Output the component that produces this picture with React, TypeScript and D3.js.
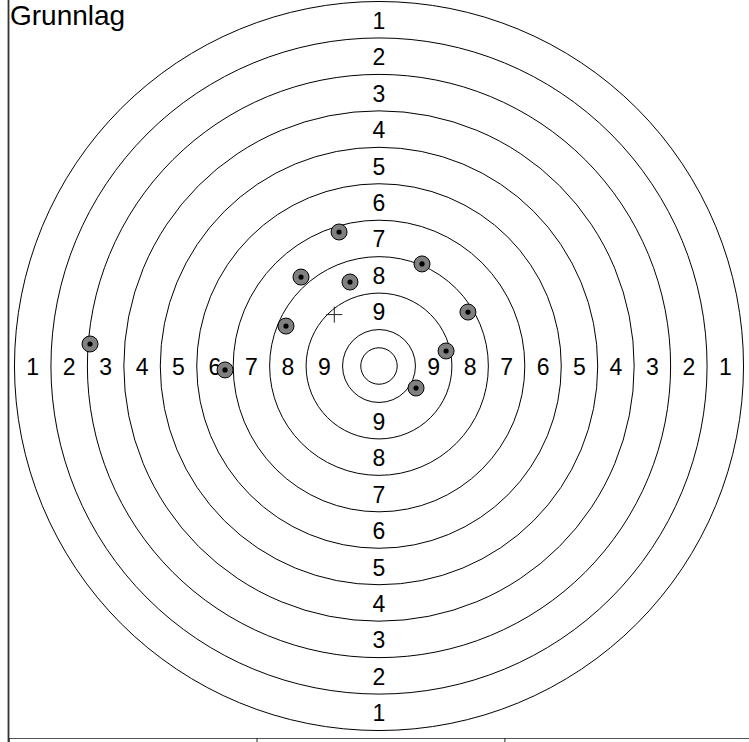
import React, { useEffect, useRef } from 'react';
import * as d3 from 'd3';

// target geometry in mm (25m / 50m pistol style: 25 mm per ring)
const ringScores = [1, 2, 3, 4, 5, 6, 7, 8, 9, 10];
const ringStep = 25;
const innerTenRadius = 12.5;

// shots, mm from target centre (y up)
const shotX = [-27.4, -53.5, -19.9, 29.5, 61.0, -63.8, 46.0, -105.6, 25.4, -198.2];
const shotY = [91.9, 61.0, 57.6, 70.0, 37.0, 27.4, 10.3, -2.7, -15.1, 15.1];

const xDomain = [-254.1, 254.1];
const yDomain = [-255.1, 251.0];
const xTicks = [-254, -84, 86];
const title = 'Grunnlag';

export default function App() {
  const svgRef = useRef<SVGSVGElement>(null);
  const W = 749, H = 742;
  const M = { left: 8.5, right: 0, top: 0, bottom: 4 };

  useEffect(() => {
    const svg = d3.select(svgRef.current);
    svg.selectAll('*').remove();

    const x = d3.scaleLinear().domain(xDomain).range([M.left, W + 0.5]);
    const y = d3.scaleLinear().domain(yDomain).range([H - M.bottom, M.top]);
    const k = x(1) - x(0);
    const font = 'Liberation Sans, Arial, Helvetica, sans-serif';

    const g = svg.append('g');

    // Rings
    const radii = ringScores.map(s => (11 - s) * ringStep);
    radii.push(innerTenRadius);
    g.selectAll('circle.ring').data(radii).enter().append('circle')
      .attr('class', 'ring')
      .attr('cx', x(0)).attr('cy', y(0)).attr('r', d => d * k)
      .attr('fill', 'none').attr('stroke', '#000').attr('stroke-width', 1);

    // Ring numbers on four sides
    const dirs = [[0, 1], [0, -1], [-1, 0], [1, 0]];
    for (const s of ringScores.filter(s => s < 10)) {
      const mid = (10.5 - s) * ringStep;
      for (const [dx, dy] of dirs) {
        g.append('text')
          .attr('x', x(dx * mid)).attr('y', y(dy * mid) + 1)
          .attr('text-anchor', 'middle').attr('dominant-baseline', 'central')
          .attr('font-family', font).attr('font-size', 23).attr('fill', '#000')
          .text(s);
      }
    }

    // Shots
    const shots = shotX.map((v, i) => ({ x: v, y: shotY[i] }));
    const sg = g.selectAll('g.shot').data(shots).enter().append('g').attr('class', 'shot');
    sg.append('circle').attr('cx', d => x(d.x)).attr('cy', d => y(d.y)).attr('r', 8)
      .attr('fill', '#808080').attr('stroke', '#000').attr('stroke-width', 1);
    sg.append('circle').attr('cx', d => x(d.x)).attr('cy', d => y(d.y)).attr('r', 2.6)
      .attr('fill', '#000');

    // Mean point of impact
    const mx = d3.mean(shotX) as number, my = d3.mean(shotY) as number;
    const cx = x(mx), cy = y(my);
    g.append('path').attr('d', `M${cx - 8},${cy}H${cx + 8}M${cx},${cy - 8}V${cy + 8}`)
      .attr('stroke', '#222').attr('stroke-width', 1).attr('fill', 'none');

    // Axes
    g.append('g').attr('transform', `translate(0,${H - M.bottom})`)
      .call(d3.axisBottom(x).tickValues(xTicks).tickSize(5).tickFormat(() => '').tickSizeOuter(0))
      .call(a => a.select('.domain').attr('stroke', '#555'))
      .call(a => a.selectAll('.tick line').attr('stroke', '#222'));
    g.append('line').attr('x1', M.left).attr('x2', M.left).attr('y1', 0).attr('y2', H)
      .attr('stroke', '#333').attr('stroke-width', 1.8);

    // Title
    svg.append('text').attr('x', 10).attr('y', 25)
      .attr('font-family', font).attr('font-size', 28).attr('fill', '#000')
      .text(title);
  }, []);

  return (
    <svg ref={svgRef} width={W} height={H}
      style={{ position: 'absolute', left: 0, top: 0, background: '#fff' }} />
  );
}
